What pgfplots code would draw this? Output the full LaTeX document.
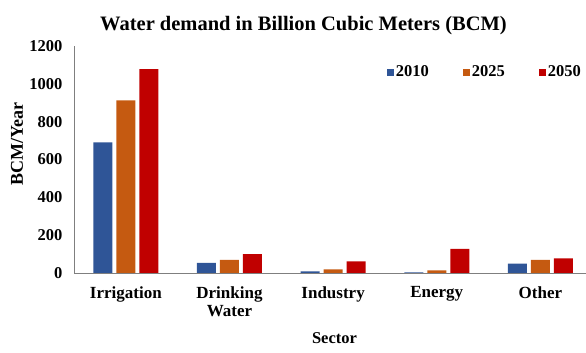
\documentclass[border=0pt]{standalone}
\usepackage{pgfplots}
\pgfplotsset{compat=1.18}
\usepackage{fontspec}
\setmainfont{Liberation Serif}
\definecolor{c2010}{HTML}{2F5597}
\definecolor{c2025}{HTML}{C55A11}
\definecolor{c2050}{HTML}{C00000}
\definecolor{axgray}{HTML}{7F7F7F}
\begin{document}
\begin{tikzpicture}[x=1pt,y=1pt]
\useasboundingbox (0,0) rectangle (586,353);
\begin{axis}[
  at={(74pt,80pt)}, anchor=south west,
  scale only axis, width=512pt, height=227pt,
  ymin=0, ymax=1200, xmin=-0.5, xmax=4.44,
  ybar=4pt, bar width=19pt,
  axis lines=left, axis line style={draw=axgray, thick, -},
  xtick={0,1,2,3,4},
  xticklabels={Irrigation,{Drinking\\Water},Industry,Energy,Other},
  xticklabel style={align=center, font=\fontsize{17}{18}\selectfont\bfseries, yshift=-10pt},
  ytick={0,200,...,1200},
  yticklabel style={font=\fontsize{16.5}{16.5}\selectfont\bfseries, xshift=-8pt},
  /pgf/number format/assume math mode=true,
  /pgf/number format/1000 sep={},
  major tick length=0pt,
  legend columns=-1,
  legend style={at={(0.605,0.885)}, anchor=west, draw=none, fill=none,
    font=\fontsize{16.5}{16.5}\selectfont\bfseries,
    /tikz/every even column/.append style={column sep=32pt}},
  legend image code/.code={\fill[#1] (0pt,-3.5pt) rectangle (7pt,3.5pt);},
]
\addplot[fill=c2010, draw=none] coordinates {(0,690) (1,53) (2,9) (3,3) (4,49)};
\addplot[fill=c2025, draw=none] coordinates {(0,912) (1,70) (2,19) (3,14) (4,69)};
\addplot[fill=c2050, draw=none] coordinates {(0,1078) (1,100) (2,62) (3,127) (4,77)};
\legend{2010,2025,2050}
\end{axis}
\node[font=\fontsize{20.5}{20.5}\selectfont\bfseries] at (303.5,327) {Water demand in Billion Cubic Meters (BCM)};
\node[font=\fontsize{16.5}{16.5}\selectfont\bfseries] at (334.5,15) {Sector};
\node[font=\fontsize{18}{18}\selectfont\bfseries, rotate=90] at (17,209) {BCM/Year};
\end{tikzpicture}
\end{document}
